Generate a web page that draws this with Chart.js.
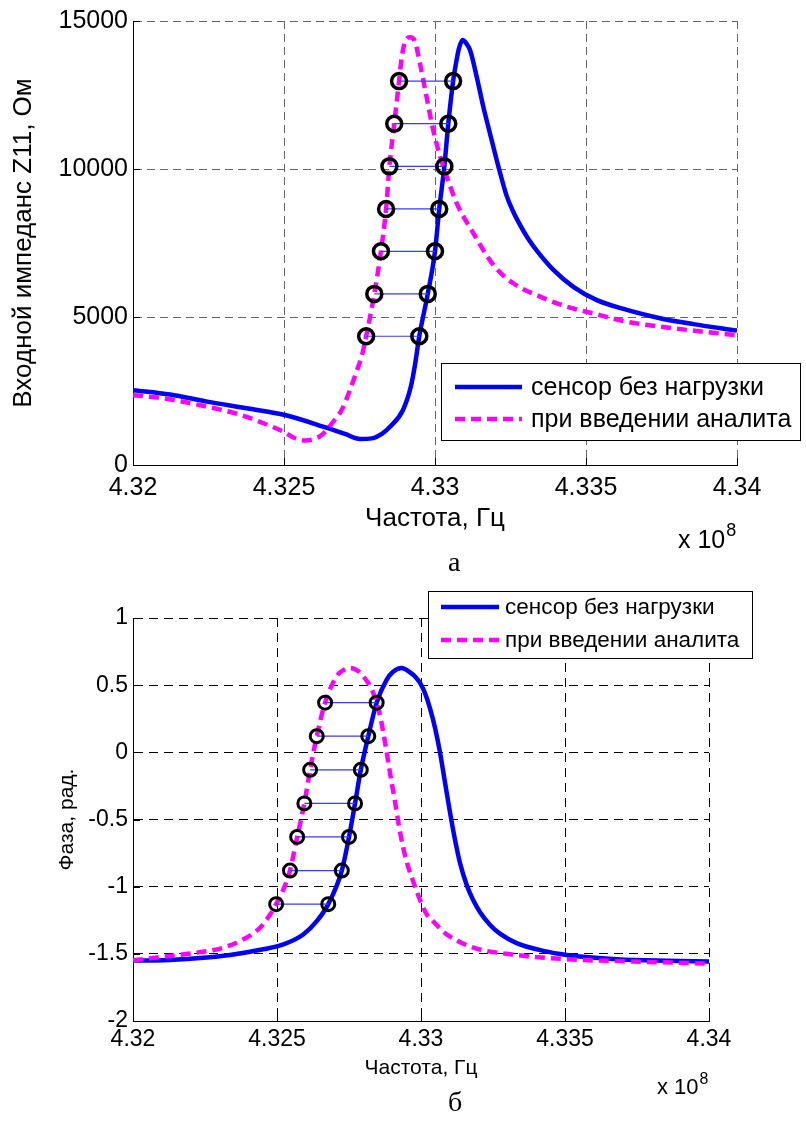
<!DOCTYPE html>
<html lang="ru">
<head>
<meta charset="utf-8">
<title>Входной импеданс и фаза сенсора</title>
<script src="https://cdn.jsdelivr.net/npm/chart.js@4.4.1/dist/chart.umd.min.js"></script>
<style>
  html, body { margin: 0; padding: 0; background: #fff; }
  body { position: relative; width: 806px; height: 1129px; overflow: hidden; font-family: "Liberation Sans", Arial, sans-serif; color: #000; }
  canvas { position: absolute; left: 0; }
  #impedance-chart { top: 0; }
  #phase-chart { top: 575px; }
  .exp { position: absolute; white-space: nowrap; line-height: 1; }
  .exp sup { font-size: 0.72em; position: relative; top: -0.15em; margin-left: 1px; }
  .caption { position: absolute; line-height: 1; font-family: "Liberation Serif", "Times New Roman", serif; font-size: 28px; }
</style>
</head>
<body>
<canvas id="impedance-chart" width="806" height="550"></canvas>
<canvas id="phase-chart" width="806" height="554"></canvas>
<div class="exp" style="left:678px; top:524px; font-size:25px;">x 10<sup>8</sup></div>
<div class="caption" style="left:448px; top:548px;">а</div>
<div class="exp" style="left:657px; top:1073px; font-size:22px;">x 10<sup>8</sup></div>
<div class="caption" style="left:448px; top:1088px;">б</div>
<script>
// Frequency axis (x 10^8 Hz)
const freqTicks = [4.32, 4.325, 4.33, 4.335, 4.34];
const freqTickLabels = ['4.32', '4.325', '4.33', '4.335', '4.34'];

const seriesLabels = ['сенсор без нагрузки', 'при введении аналита'];

// Top chart: input impedance Z11, Ohm
const zTicks = [0, 5000, 10000, 15000];
const zTickLabels = ['0', '5000', '10000', '15000'];

const zFreqFree = [4.32, 4.32123, 4.32245, 4.32387, 4.32503, 4.32632, 4.32702, 4.32752, 4.32791, 4.32824,
  4.32851, 4.32894, 4.3292, 4.32934, 4.32948, 4.32976, 4.33, 4.33014, 4.33031, 4.33044,
  4.3306, 4.3307, 4.3308, 4.33092, 4.33103, 4.33116, 4.33138, 4.3316, 4.33182, 4.3321,
  4.33237, 4.33258, 4.33281, 4.33308, 4.33337, 4.33392, 4.33458, 4.33536, 4.33635, 4.33745, 4.33855, 4.34];
const zFree = [2530, 2380, 2140, 1900, 1690, 1290, 1050, 880, 900, 1050,
  1290, 1860, 2650, 3400, 4350, 5780, 7220, 8650, 10090, 11530,
  12970, 13600, 14100, 14360, 14250, 14020, 13120, 12100, 11200, 10080,
  9100, 8580, 8120, 7650, 7240, 6590, 6020, 5570, 5240, 4960, 4760, 4540];

const zFreqLoaded = [4.32, 4.32101, 4.32245, 4.32354, 4.32432, 4.32503, 4.32533, 4.32569, 4.32606, 4.32632,
  4.32662, 4.32691, 4.32719, 4.32742, 4.32758, 4.32772, 4.32799, 4.32821, 4.32838, 4.32849,
  4.32865, 4.32881, 4.3289, 4.32901, 4.32917, 4.32934, 4.3295, 4.32972, 4.32994, 4.33017,
  4.33039, 4.33072, 4.33127, 4.33193, 4.33259, 4.33348, 4.33436, 4.33524, 4.33635, 4.33789, 4.34];
const zLoaded = [2360, 2250, 1970, 1700, 1410, 1100, 920, 830, 900, 1080,
  1450, 1860, 2550, 3210, 3700, 4350, 5780, 7220, 8650, 10090,
  11530, 12970, 13790, 14300, 14450, 14300, 13570, 12440, 11320, 10420,
  9740, 8840, 7830, 6760, 6140, 5690, 5350, 5120, 4840, 4620, 4380];

// Marker pairs on the rising slopes
const zMarkLevels = [4350, 5780, 7220, 8650, 10090, 11530, 12970];
const zMarkLoaded = [4.32772, 4.32799, 4.32821, 4.32838, 4.32849, 4.32865, 4.32881];
const zMarkFree = [4.32948, 4.32976, 4.33, 4.33014, 4.33031, 4.33044, 4.3306];

// Bottom chart: phase, rad
const pTicks = [-2, -1.5, -1, -0.5, 0, 0.5, 1];
const pTickLabels = ['-2', '-1.5', '-1', '-0.5', '0', '0.5', '1'];

const pFreqFree = [4.32, 4.32105, 4.32221, 4.32337, 4.32452, 4.32522, 4.32591, 4.32638, 4.32678, 4.32725,
  4.3275, 4.32771, 4.32791, 4.32817, 4.32846, 4.32881, 4.32903, 4.32933, 4.32962, 4.32979,
  4.32997, 4.33014, 4.33031, 4.33049, 4.33066, 4.33083, 4.33101, 4.33118, 4.33135, 4.33159,
  4.33181, 4.33205, 4.3324, 4.33274, 4.33332, 4.33425, 4.33506, 4.3368, 4.33853, 4.34];
const pFree = [-1.55, -1.548, -1.533, -1.508, -1.466, -1.43, -1.356, -1.257, -1.13, -0.88,
  -0.63, -0.38, -0.13, 0.12, 0.37, 0.542, 0.6, 0.628, 0.595, 0.565,
  0.515, 0.44, 0.33, 0.18, 0.0, -0.22, -0.45, -0.65, -0.82, -0.99,
  -1.1, -1.19, -1.285, -1.35, -1.42, -1.478, -1.508, -1.54, -1.552, -1.557];

const pFreqLoaded = [4.32, 4.32105, 4.32221, 4.32314, 4.32383, 4.32441, 4.32476, 4.32497, 4.32528, 4.32545,
  4.3257, 4.32595, 4.32615, 4.32638, 4.32667, 4.32707, 4.32729, 4.32753, 4.32778, 4.328,
  4.32834, 4.32858, 4.32875, 4.32892, 4.3291, 4.32927, 4.3295, 4.32973, 4.32985, 4.3302,
  4.33043, 4.33089, 4.33182, 4.33309, 4.33506, 4.33737, 4.34];
const pLoaded = [-1.548, -1.522, -1.491, -1.454, -1.392, -1.306, -1.208, -1.13, -0.99, -0.88,
  -0.63, -0.38, -0.13, 0.12, 0.37, 0.566, 0.61, 0.628, 0.61, 0.566,
  0.443, 0.271, 0.074, -0.148, -0.37, -0.591, -0.813, -0.961, -1.035, -1.207,
  -1.26, -1.355, -1.454, -1.503, -1.54, -1.557, -1.572];

const pMarkLevels = [-1.13, -0.88, -0.63, -0.38, -0.13, 0.12, 0.37];
const pMarkLoaded = [4.32497, 4.32545, 4.3257, 4.32595, 4.32615, 4.32638, 4.32667];
const pMarkFree = [4.32678, 4.32725, 4.3275, 4.32771, 4.32791, 4.32817, 4.32846];

const FONT = '"Liberation Sans", Arial, sans-serif';

function toPoints(xs, ys) {
  return xs.map((x, i) => ({ x: x, y: ys[i] }));
}

// Horizontal rungs between marker pairs, broken after each row
function rungPoints(left, right, levels) {
  const pts = [];
  levels.forEach((lvl, i) => {
    pts.push({ x: left[i], y: lvl }, { x: right[i], y: lvl }, { x: right[i], y: null });
  });
  return pts;
}

// Legend box drawn at a fixed place, like the MATLAB one
const boxLegend = {
  id: 'boxLegend',
  afterDraw(chart, args, o) {
    if (!o || !o.items) return;
    const ctx = chart.ctx;
    ctx.save();
    ctx.fillStyle = '#fff';
    ctx.fillRect(o.x, o.y, o.w, o.h);
    ctx.strokeStyle = '#000';
    ctx.lineWidth = 1;
    ctx.strokeRect(o.x + 0.5, o.y + 0.5, o.w, o.h);
    ctx.font = o.fontSize + 'px ' + FONT;
    ctx.textBaseline = 'middle';
    o.items.forEach((dsIndex, i) => {
      const ds = chart.data.datasets[dsIndex];
      const ly = o.y + o.rows[i];
      ctx.beginPath();
      ctx.setLineDash(ds.borderDash || []);
      ctx.strokeStyle = ds.borderColor;
      ctx.lineWidth = ds.borderWidth;
      ctx.moveTo(o.x + o.line0, ly);
      ctx.lineTo(o.x + o.line1, ly);
      ctx.stroke();
      ctx.setLineDash([]);
      ctx.fillStyle = '#000';
      ctx.fillText(ds.label, o.x + o.textX, ly + 1);
    });
    ctx.restore();
  }
};

// Short tick marks pointing into the plot on the left and bottom axes
const inwardTicks = {
  id: 'inwardTicks',
  beforeDatasetsDraw(chart, args, o) {
    const { ctx, chartArea, scales } = chart;
    const len = (o && o.length) || 7;
    ctx.save();
    ctx.strokeStyle = '#000';
    ctx.lineWidth = 1;
    ctx.beginPath();
    scales.x.ticks.forEach(t => {
      const px = Math.round(scales.x.getPixelForValue(t.value)) + 0.5;
      ctx.moveTo(px, chartArea.bottom);
      ctx.lineTo(px, chartArea.bottom - len);
    });
    scales.y.ticks.forEach(t => {
      const py = Math.round(scales.y.getPixelForValue(t.value)) + 0.5;
      ctx.moveTo(chartArea.left, py);
      ctx.lineTo(chartArea.left + len, py);
    });
    ctx.stroke();
    ctx.restore();
  }
};

Chart.register(boxLegend, inwardTicks);

function curveDatasets(freqFree, free, freqLoaded, loaded, markLoaded, markFree, levels, markRadius, markWidth) {
  return [
    {
      label: seriesLabels[0],
      data: toPoints(freqFree, free),
      showLine: true,
      borderColor: '#0000ff',
      borderWidth: 4.5,
      pointRadius: 0,
      cubicInterpolationMode: 'monotone',
      order: 3
    },
    {
      label: seriesLabels[1],
      data: toPoints(freqLoaded, loaded),
      showLine: true,
      borderColor: '#ff00ff',
      borderWidth: 4.5,
      borderDash: [10, 6],
      pointRadius: 0,
      cubicInterpolationMode: 'monotone',
      order: 2
    },
    {
      label: 'rungs',
      data: rungPoints(markLoaded, markFree, levels),
      showLine: true,
      spanGaps: false,
      borderColor: '#3a3aff',
      borderWidth: 1.2,
      pointRadius: 0,
      order: 1
    },
    {
      label: 'markers',
      data: toPoints(markLoaded.concat(markFree), levels.concat(levels)),
      showLine: false,
      pointRadius: markRadius,
      pointBorderWidth: markWidth,
      pointBorderColor: '#000',
      pointBackgroundColor: 'rgba(0,0,0,0)',
      order: 0
    }
  ];
}

function buildOptions(cfg) {
  return {
    responsive: false,
    animation: false,
    events: [],
    layout: { padding: { left: 0, top: cfg.padTop, right: cfg.padRight, bottom: 0 } },
    plugins: {
      legend: { display: false },
      tooltip: { enabled: false },
      boxLegend: cfg.legend,
      inwardTicks: { length: 7 }
    },
    scales: {
      x: {
        type: 'linear',
        min: freqTicks[0],
        max: freqTicks[freqTicks.length - 1],
        afterBuildTicks: scale => { scale.ticks = freqTicks.map(v => ({ value: v })); },
        afterFit: scale => { scale.height = cfg.xAxisHeight; },
        ticks: {
          callback: (v, i) => freqTickLabels[i],
          color: '#000',
          font: { family: FONT, size: cfg.tickSize },
          padding: cfg.xTickPad,
          maxRotation: 0,
          autoSkip: false
        },
        grid: { color: cfg.gridColor, lineWidth: 1, drawTicks: false },
        border: { display: true, color: '#000', width: 1, dash: cfg.gridDash },
        title: {
          display: true,
          text: 'Частота, Гц',
          color: '#000',
          font: { family: FONT, size: cfg.titleSize },
          padding: { top: 0, bottom: cfg.xTitlePad }
        }
      },
      y: {
        type: 'linear',
        min: cfg.yTicks[0],
        max: cfg.yTicks[cfg.yTicks.length - 1],
        afterBuildTicks: scale => { scale.ticks = cfg.yTicks.map(v => ({ value: v })); },
        afterFit: scale => { scale.width = 133; },
        ticks: {
          callback: (v, i) => cfg.yTickLabels[i],
          color: '#000',
          font: { family: FONT, size: cfg.tickSize },
          padding: 5,
          autoSkip: false
        },
        grid: { color: cfg.gridColor, lineWidth: 1, drawTicks: false },
        border: { display: true, color: '#000', width: 1, dash: cfg.gridDash },
        title: {
          display: true,
          text: cfg.yTitle,
          color: '#000',
          font: { family: FONT, size: cfg.titleSize },
          padding: { top: cfg.yTitlePad, bottom: 0 }
        }
      }
    }
  };
}

// Top: input impedance
new Chart(document.getElementById('impedance-chart'), {
  type: 'scatter',
  data: {
    datasets: curveDatasets(zFreqFree, zFree, zFreqLoaded, zLoaded, zMarkLoaded, zMarkFree, zMarkLevels, 7.5, 3.5)
  },
  options: buildOptions({
    padTop: 21,
    padRight: 806 - 737,
    xAxisHeight: 550 - 465,
    yTicks: zTicks,
    yTickLabels: zTickLabels,
    yTitle: 'Входной импеданс Z11, Ом',
    tickSize: 25,
    titleSize: 26,
    xTickPad: 8,
    xTitlePad: 16,
    yTitlePad: 8,
    gridColor: '#666',
    gridDash: [8, 5],
    legend: { items: [0, 1], x: 441, y: 363, w: 359, h: 77, rows: [24, 56], line0: 14, line1: 81, textX: 90, fontSize: 25 }
  })
});

// Bottom: phase
new Chart(document.getElementById('phase-chart'), {
  type: 'scatter',
  data: {
    datasets: curveDatasets(pFreqFree, pFree, pFreqLoaded, pLoaded, pMarkLoaded, pMarkFree, pMarkLevels, 6.5, 3)
  },
  options: buildOptions({
    padTop: 618 - 575,
    padRight: 806 - 709,
    xAxisHeight: 554 - (1021 - 575),
    yTicks: pTicks,
    yTickLabels: pTickLabels,
    yTitle: 'Фаза, рад.',
    tickSize: 23,
    titleSize: 21,
    xTickPad: 5,
    xTitlePad: 48,
    yTitlePad: 55,
    gridColor: '#000',
    gridDash: [9, 6],
    legend: { items: [0, 1], x: 428, y: 16, w: 324, h: 67, rows: [16, 49], line0: 13, line1: 71, textX: 77, fontSize: 22.5 }
  })
});
</script>
</body>
</html>
